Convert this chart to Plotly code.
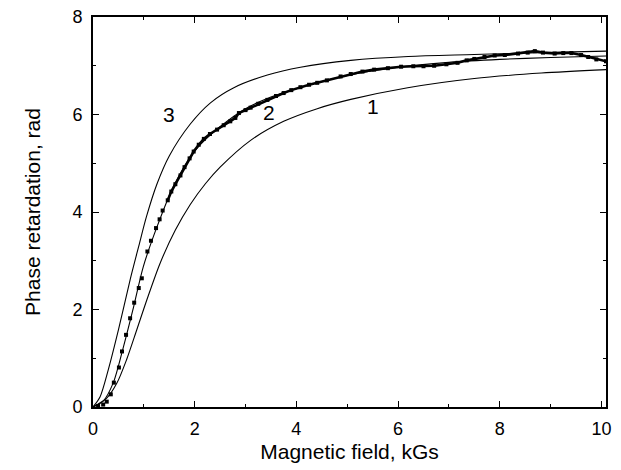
import plotly.graph_objects as go

# Theoretical curves
x1 = [0, 0.27, 0.47, 0.66, 0.86, 1.06, 1.32, 1.62, 1.91, 2.21, 2.5, 3.1, 3.75, 4.41, 5.07, 6.19, 7.5, 8.82, 10.09]
y1 = [0, 0.18, 0.49, 0.97, 1.58, 2.20, 2.95, 3.63, 4.15, 4.58, 4.92, 5.47, 5.86, 6.12, 6.31, 6.55, 6.74, 6.85, 6.92]

x2 = [0, 0.20, 0.40, 0.60, 0.80, 0.99, 1.26, 1.58, 2.0, 2.5, 3.0, 3.5, 4.0, 5.0, 6.0, 7.0, 8.0, 9.0, 10.09]
y2 = [0, 0.12, 0.50, 1.24, 2.06, 2.88, 3.70, 4.52, 5.25, 5.75, 6.12, 6.36, 6.53, 6.80, 6.97, 7.07, 7.13, 7.17, 7.20]

x3 = [0, 0.14, 0.30, 0.50, 0.73, 0.90, 1.05, 1.26, 1.50, 1.91, 2.31, 2.77, 3.43, 4.08, 5.07, 6.2, 7.5, 8.8, 10.09]
y3 = [0, 0.21, 0.76, 1.58, 2.61, 3.30, 3.90, 4.58, 5.15, 5.80, 6.24, 6.55, 6.81, 6.97, 7.11, 7.19, 7.23, 7.27, 7.30]

# Measured data (dots)
xd = [0.10, 0.20, 0.27, 0.35, 0.41, 0.51, 0.57, 0.65, 0.73, 0.81, 0.90, 0.96, 1.07, 1.14, 1.24, 1.31, 1.37,
      1.47, 1.54, 1.62, 1.72, 1.80, 1.90, 1.98, 2.08, 2.18, 2.30, 2.44, 2.57, 2.70, 2.80, 2.87, 3.00, 3.10,
      3.25, 3.43, 3.60, 3.75, 3.90, 4.08, 4.25, 4.41, 4.60, 4.87, 5.07, 5.30, 5.53, 5.80, 6.06, 6.30, 6.50,
      6.71, 6.95, 7.17, 7.35, 7.50, 7.70, 7.90, 8.10, 8.36, 8.55, 8.69, 8.85, 9.08, 9.25, 9.41, 9.60, 9.74,
      9.90, 10.09]
yd = [0.02, 0.05, 0.11, 0.26, 0.50, 0.81, 1.14, 1.48, 1.82, 2.14, 2.44, 2.64, 3.19, 3.41, 3.67, 3.85, 4.03,
      4.24, 4.42, 4.57, 4.75, 4.92, 5.10, 5.24, 5.38, 5.50, 5.60, 5.69, 5.78, 5.86, 5.93, 6.03, 6.09, 6.14,
      6.22, 6.30, 6.38, 6.44, 6.50, 6.56, 6.61, 6.65, 6.70, 6.78, 6.83, 6.88, 6.92, 6.95, 6.98, 6.99, 6.99,
      7.00, 7.03, 7.06, 7.11, 7.14, 7.18, 7.21, 7.22, 7.25, 7.27, 7.30, 7.27, 7.25, 7.26, 7.26, 7.22, 7.18,
      7.13, 7.09]

curve_labels = ["1", "2", "3"]
label_x = [5.50, 3.47, 1.50]
label_y = [6.17, 6.04, 5.99]

FONT = "Liberation Sans, Arial, sans-serif"

fig = go.Figure()
for xs, ys in [(x1, y1), (x2, y2), (x3, y3)]:
    fig.add_trace(go.Scatter(x=xs, y=ys, mode="lines", line=dict(color="black", width=1.1, shape="spline", smoothing=0.8),
                             showlegend=False, hoverinfo="skip"))

# dense part of the measured data appears as a continuous thick band
dense = [i for i, v in enumerate(xd) if v >= 1.4]
fig.add_trace(go.Scatter(x=[xd[i] for i in dense], y=[yd[i] for i in dense], mode="lines",
                         line=dict(color="black", width=2.6), showlegend=False, hoverinfo="skip"))
fig.add_trace(go.Scatter(x=xd, y=yd, mode="markers",
                         marker=dict(symbol="square", size=4, color="black"),
                         showlegend=False))

for t, lx, ly in zip(curve_labels, label_x, label_y):
    fig.add_annotation(x=lx, y=ly, text=t, showarrow=False, font=dict(family=FONT, size=21, color="black"))

axis_common = dict(showline=True, linewidth=2, linecolor="black", mirror="ticks", ticks="inside",
                   ticklen=6, tickwidth=1, tickcolor="black", showgrid=False, zeroline=False,
                   automargin=False, ticklabeloverflow="allow",
                   tickfont=dict(family=FONT, size=18, color="black"),
                   minor=dict(ticks="inside", ticklen=3, tickcolor="black", dtick=1, showgrid=False))

fig.update_xaxes(range=[0, 10.09], tickvals=[0, 2, 4, 6, 8, 10], ticklabelstandoff=4,
                 title=dict(text="Magnetic field, kGs", font=dict(family=FONT, size=21, color="black"), standoff=7),
                 **axis_common)
fig.update_yaxes(range=[0, 8], tickvals=[0, 2, 4, 6, 8], ticklabelstandoff=5,
                 title=dict(text="Phase retardation, rad", font=dict(family=FONT, size=21, color="black"), standoff=26),
                 **axis_common)

# the page body adds an 8 px margin, so the figure is offset accordingly
fig.update_layout(width=613, height=462, margin=dict(l=85, r=15, t=9, b=63),
                  paper_bgcolor="white", plot_bgcolor="white", showlegend=False)

fig.write_html("out.html")
